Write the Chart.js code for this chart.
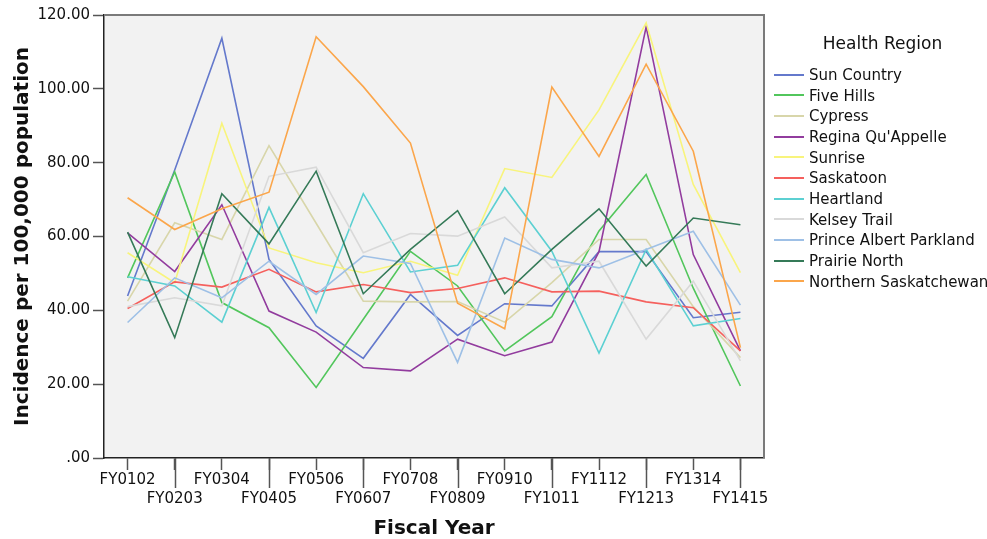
<!DOCTYPE html>
<html>
<head>
<meta charset="utf-8">
<script src="https://cdn.jsdelivr.net/npm/chart.js@4"></script>
<style>
  body { margin: 0; background: #fff; }
  #wrap { position: relative; width: 987px; height: 539px; }
  #legend { position: absolute; left: 770px; top: 30px; font-family: "DejaVu Sans", sans-serif; color: #111; }
  #legend .title { position: absolute; left: 0; width: 225px; top: 3px; text-align: center; font-size: 17px; white-space: nowrap; }
  #legend .item { position: absolute; left: 4px; height: 20px; line-height: 20px; font-size: 15px; white-space: nowrap; }
  #legend .swatch { display: inline-block; width: 30px; height: 2px; vertical-align: middle; margin-right: 5px; position: relative; top: -1px; }
</style>
</head>
<body>
<div id="wrap">
  <canvas id="chart"></canvas>
  <div id="legend"></div>
</div>
<script>
const fiscalYears = ["FY0102", "FY0203", "FY0304", "FY0405", "FY0506", "FY0607", "FY0708",
  "FY0809", "FY0910", "FY1011", "FY1112", "FY1213", "FY1314", "FY1415"];
const yTickLabels = [".00", "20.00", "40.00", "60.00", "80.00", "100.00", "120.00"];

const regionNames = ["Sun Country", "Five Hills", "Cypress", "Regina Qu'Appelle", "Sunrise", "Saskatoon",
  "Heartland", "Kelsey Trail", "Prince Albert Parkland", "Prairie North", "Northern Saskatchewan"];
const regionColors = ["#6479cc", "#52c65c", "#d8d6aa", "#923c9e", "#f8f47c", "#f5605d",
  "#5cd0d2", "#d9d9d9", "#9ec0e6", "#357a58", "#fba64b"];

const sunCountry = [43.9, 78.0, 113.7, 53.8, 35.8, 27.0, 44.3, 33.2, 41.8, 41.2, 55.9, 55.9, 38.0, 39.5];
const fiveHills = [48.8, 77.5, 42.1, 35.3, 19.1, 37.6, 56.0, 46.6, 29.0, 38.3, 61.5, 76.8, 46.0, 19.5];
const cypress = [42.5, 63.7, 59.2, 84.6, 63.6, 42.5, 42.3, 42.4, 36.8, 47.5, 59.2, 59.2, 41.0, 27.2];
const reginaQuAppelle = [61.0, 50.5, 68.6, 39.8, 34.1, 24.5, 23.6, 32.2, 27.7, 31.4, 55.9, 116.8, 55.1, 29.0];
const sunrise = [55.6, 47.5, 90.7, 56.9, 52.9, 50.2, 53.3, 49.5, 78.4, 76.0, 94.3, 117.9, 74.1, 50.2];
const saskatoon = [40.5, 47.7, 46.3, 51.1, 45.0, 47.0, 44.8, 45.9, 48.8, 45.0, 45.2, 42.3, 40.7, 29.0];
const heartland = [49.1, 46.6, 36.8, 67.9, 39.4, 71.6, 50.4, 52.2, 73.2, 56.0, 28.4, 56.5, 35.8, 37.8];
const kelseyTrail = [41.0, 43.4, 41.2, 76.3, 78.8, 55.6, 60.8, 60.1, 65.3, 51.5, 53.3, 32.2, 47.9, 26.3];
const princeAlbert = [36.7, 48.8, 43.4, 53.3, 44.3, 54.7, 52.7, 25.9, 59.6, 53.8, 51.5, 56.5, 61.4, 41.4];
const prairieNorth = [61.2, 32.6, 71.6, 58.0, 77.7, 44.5, 56.5, 67.0, 44.5, 56.5, 67.5, 52.0, 65.0, 63.2];
const northernSask = [70.5, 61.9, 67.5, 72.0, 114.1, 100.6, 85.3, 41.9, 35.0, 100.5, 81.7, 106.7, 83.1, 29.9];

const seriesValues = [sunCountry, fiveHills, cypress, reginaQuAppelle, sunrise, saskatoon,
  heartland, kelseyTrail, princeAlbert, prairieNorth, northernSask];

// plot background + grey frame on top/right, long ticks under every second label
const framePlugin = {
  id: "frame",
  beforeDraw(chart) {
    const { ctx, chartArea: a } = chart;
    ctx.save();
    ctx.fillStyle = "#f2f2f2";
    ctx.fillRect(a.left, a.top, a.right - a.left, a.bottom - a.top);
    ctx.restore();
  },
  afterDraw(chart) {
    const { ctx, chartArea: a } = chart;
    const x = chart.scales.x;
    ctx.save();
    ctx.strokeStyle = "#7a7a7a";
    ctx.lineWidth = 2;
    ctx.beginPath();
    ctx.moveTo(a.left, a.top);
    ctx.lineTo(a.right, a.top);
    ctx.lineTo(a.right, a.bottom);
    ctx.stroke();
    ctx.strokeStyle = "#555";
    ctx.lineWidth = 1.5;
    fiscalYears.forEach((f, i) => {
      if (i % 2 === 1) {
        const px = Math.round(x.getPixelForValue(i)) + 0.5;
        ctx.beginPath();
        ctx.moveTo(px, a.bottom);
        ctx.lineTo(px, a.bottom + 30);
        ctx.stroke();
      }
    });
    ctx.restore();
  }
};

new Chart(document.getElementById("chart"), {
  type: "line",
  data: {
    labels: fiscalYears,
    datasets: regionNames.map((name, i) => ({
      label: name,
      data: seriesValues[i],
      borderColor: regionColors[i],
      backgroundColor: regionColors[i],
      borderWidth: 1.6,
      pointRadius: 0,
      tension: 0,
      fill: false,
      order: regionNames.length - i
    }))
  },
  options: {
    responsive: true,
    maintainAspectRatio: false,
    animation: false,
    layout: { padding: { top: 15, right: 223, left: 0, bottom: 0 } },
    plugins: { legend: { display: false }, tooltip: { enabled: false } },
    scales: {
      x: {
        offset: true,
        afterFit: s => { s.height = 81; },
        grid: { drawOnChartArea: false, tickLength: 12, color: "#555", tickWidth: 1.5, offset: false },
        border: { color: "#222", width: 1.5 },
        ticks: {
          padding: 1,
          maxRotation: 0,
          autoSkip: false,
          color: "#111",
          font: { family: "DejaVu Sans", size: 15, lineHeight: 1.23 },
          callback: (v, i) => (i % 2 === 1 ? ["", fiscalYears[i]] : fiscalYears[i])
        },
        title: {
          display: true,
          text: "Fiscal Year",
          color: "#111",
          font: { family: "DejaVu Sans", size: 20, weight: "bold", lineHeight: 1 },
          padding: { top: 0, bottom: 0 }
        }
      },
      y: {
        min: 0,
        max: 120,
        afterFit: s => { s.width = 104; },
        grid: { drawOnChartArea: false, tickLength: 11, color: "#555", tickWidth: 1.5 },
        border: { color: "#222", width: 1.5 },
        ticks: {
          stepSize: 20,
          padding: 3,
          color: "#111",
          font: { family: "DejaVu Sans", size: 15 },
          callback: (v, i) => yTickLabels[i]
        },
        title: {
          display: true,
          text: "Incidence per 100,000 population",
          color: "#111",
          font: { family: "DejaVu Sans", size: 20, weight: "bold", lineHeight: 1 },
          padding: { top: 13, bottom: 0 }
        }
      }
    }
  },
  plugins: [framePlugin]
});

const legend = document.getElementById("legend");
legend.innerHTML = '<div class="title">Health Region</div>' + regionNames.map((name, i) =>
  '<div class="item" style="top:' + (35 + i * 20.67).toFixed(1) + 'px"><span class="swatch" style="background:' +
  regionColors[i] + '"></span>' + name + '</div>').join("");
</script>
</body>
</html>
